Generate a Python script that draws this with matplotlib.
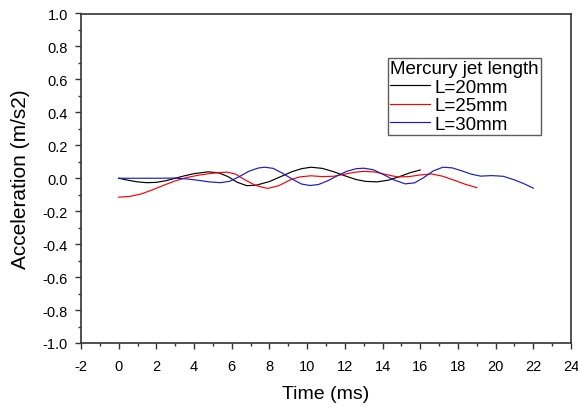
import matplotlib
matplotlib.use("Agg")
import matplotlib.pyplot as plt
from matplotlib.ticker import MultipleLocator

plt.rcParams['font.family'] = ['Liberation Sans', 'DejaVu Sans']
plt.rcParams['axes.unicode_minus'] = False

x20 = [0, 0.5, 1, 1.5, 2, 2.5, 3, 3.5, 4, 4.75, 5.3, 5.8, 6.3, 6.8, 7.3, 8, 8.6, 9.2, 9.7, 10.2, 10.8, 11.4, 12, 12.6, 13.1, 13.7, 14.3, 14.9, 15.5, 16]
y20 = [0, -0.012, -0.022, -0.027, -0.025, -0.015, 0.0, 0.015, 0.028, 0.039, 0.033, 0.01, -0.025, -0.045, -0.042, -0.02, 0.01, 0.04, 0.058, 0.067, 0.06, 0.04, 0.015, -0.008, -0.019, -0.022, -0.012, 0.01, 0.035, 0.05]

x25 = [0, 0.6, 1.2, 1.8, 2.4, 3.0, 3.6, 4.2, 4.8, 5.3, 5.75, 6.2, 6.7, 7.3, 7.9, 8.5, 9.1, 9.6, 10.2, 10.8, 11.4, 12, 12.5, 13, 13.6, 14.2, 14.8, 15.4, 16, 16.6, 17.2, 17.8, 18.4, 19]
y25 = [-0.115, -0.11, -0.095, -0.07, -0.042, -0.016, 0.004, 0.018, 0.028, 0.034, 0.037, 0.025, -0.01, -0.045, -0.062, -0.045, -0.01, 0.008, 0.015, 0.01, 0.012, 0.025, 0.036, 0.042, 0.038, 0.022, 0.008, 0.01, 0.02, 0.026, 0.012, -0.012, -0.037, -0.057]

x30 = [0, 1, 2, 3, 3.6, 4.2, 4.8, 5.4, 5.9, 6.4, 6.9, 7.4, 7.75, 8.2, 8.7, 9.2, 9.7, 10.15, 10.6, 11.1, 11.6, 12.1, 12.6, 13.0, 13.5, 14.0, 14.6, 15.2, 15.7, 16.2, 16.7, 17.2, 17.7, 18.2, 18.7, 19.2, 19.8, 20.4, 21.0, 21.5, 22]
y30 = [0, 0, 0, 0.001, -0.004, -0.012, -0.022, -0.027, -0.018, 0.01, 0.042, 0.062, 0.067, 0.06, 0.03, -0.005, -0.035, -0.044, -0.038, -0.015, 0.015, 0.042, 0.058, 0.061, 0.052, 0.025, -0.01, -0.034, -0.028, 0.005, 0.045, 0.067, 0.063, 0.045, 0.025, 0.013, 0.016, 0.012, -0.01, -0.033, -0.06]

labels = ["L=20mm", "L=25mm", "L=30mm"]
colors = ["#000000", "#ff0000", "#1a1acc"]

fig = plt.figure(figsize=(5.78, 4.10), dpi=100)
ax = fig.add_axes([81/578, 1-344/410, 490/578, 329.5/410])

for xs, ys, lab, c in zip([x20, x25, x30], [y20, y25, y30], labels, colors):
    ax.plot(xs, ys, color=c, lw=0.85, label=lab)

ax.set_xlim(-2, 24)
ax.set_ylim(-1.0, 1.0)
ax.xaxis.set_major_locator(MultipleLocator(2))
ax.xaxis.set_minor_locator(MultipleLocator(1))
ax.yaxis.set_major_locator(MultipleLocator(0.2))
ax.yaxis.set_minor_locator(MultipleLocator(0.1))
ax.yaxis.set_major_formatter(matplotlib.ticker.FormatStrFormatter('%.1f'))
ax.tick_params(which='both', direction='out', top=False, right=False, labelsize=10.5,
               color='#333333', width=1.0, pad=5)
ax.tick_params(axis='x', which='major', pad=7)
ax.tick_params(which='major', length=4.5)
ax.tick_params(which='minor', length=2.5)
for s in ax.spines.values():
    s.set_linewidth(1.2)
    s.set_color('#333333')

ax.set_xlabel("Time (ms)", fontsize=14, labelpad=9)
ax.set_ylabel("Acceleration (m/s2)", fontsize=15, labelpad=9)

leg = ax.legend(title="Mercury jet length", loc='upper left', bbox_to_anchor=(0.627, 0.866),
                frameon=True, fancybox=False, edgecolor='#333333', fontsize=13.5, title_fontsize=13.5,
                handlelength=2.1, handletextpad=0.25, labelspacing=0.08, borderpad=0.12,
                borderaxespad=0, alignment='left')
leg.get_frame().set_linewidth(1.0)

fig.savefig("out.png", dpi=100)
